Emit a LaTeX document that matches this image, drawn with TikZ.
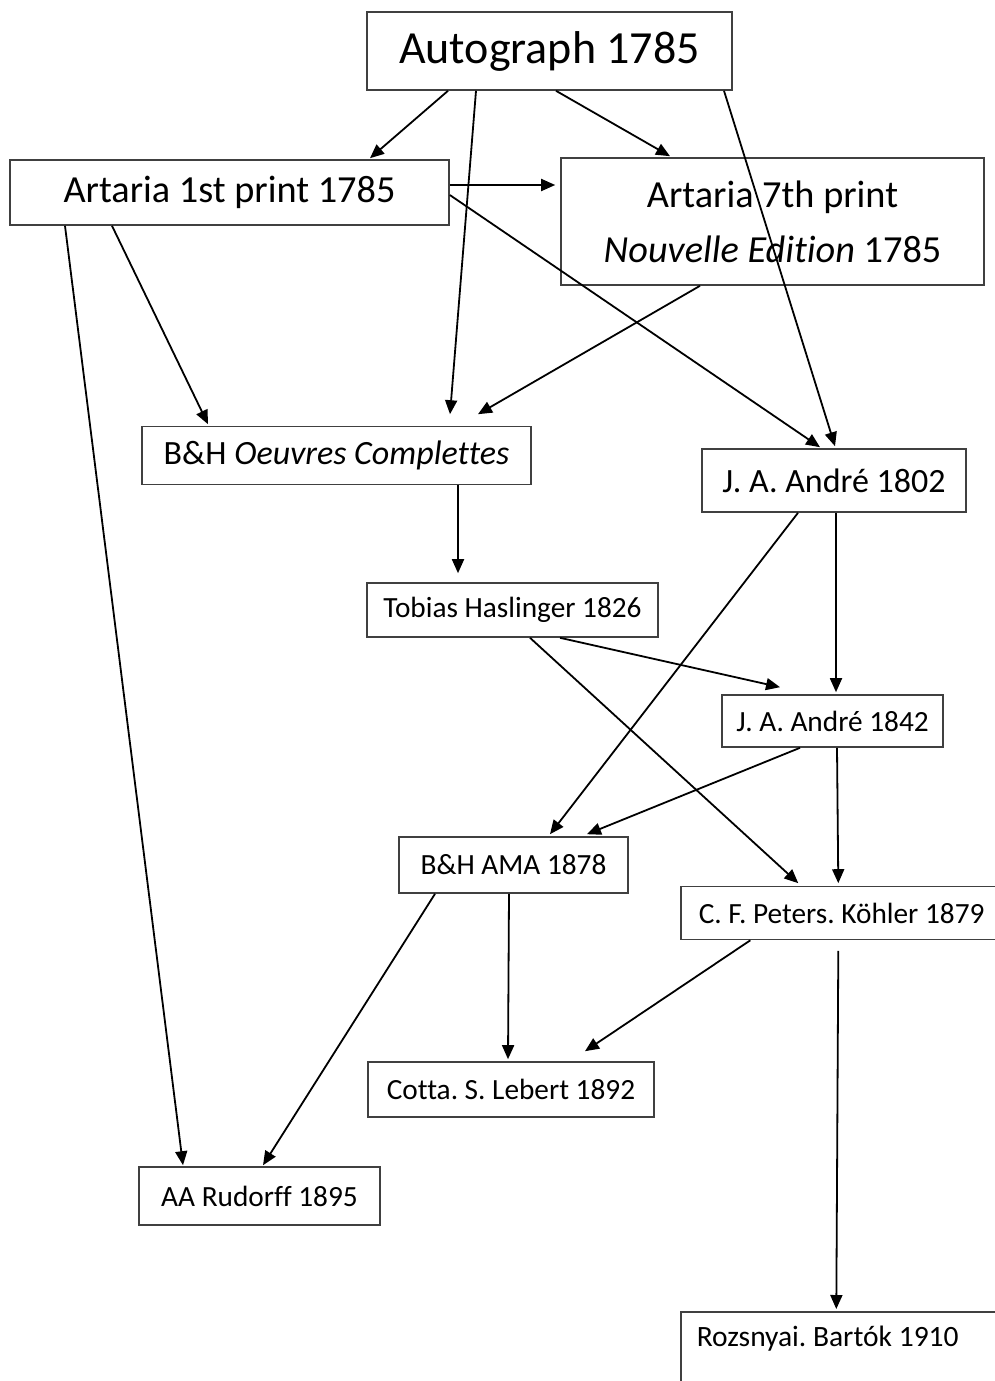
\documentclass[tikz,border=0pt]{standalone}
\usepackage{fontspec}
\setmainfont{Carlito}[Ligatures=NoCommon]
\usetikzlibrary{arrows.meta}
\definecolor{boxline}{HTML}{404040}
\tikzset{
  box/.style={draw=boxline, line width=1.6pt, inner sep=0pt, align=center, text=black},
  conn/.style={-{Triangle[length=14pt,width=12pt]}, line width=1.8pt, draw=black},
  fbig/.style={font=\fontsize{46}{55}\selectfont},
  fmed/.style={font=\fontsize{38.3}{55}\selectfont},
  fmid/.style={font=\fontsize{34}{40}\selectfont},
  fsmall/.style={font=\fontsize{29.3}{34}\selectfont},
}
\newcommand{\flushlabel}[1]{\makebox[315pt][l]{#1}}
\begin{document}
\frenchspacing
\begin{tikzpicture}[x=1pt, y=-1pt]
\useasboundingbox (0,0) rectangle (995,1381);
\fill[white] (0,0) rectangle (995,1381);
\clip (0,0) rectangle (995,1381);

% editions
\node[box, fbig, minimum width=365pt, minimum height=78pt] (auto) at (549.5,51) {Autograph 1785};
\node[box, fmed, minimum width=439pt, minimum height=65pt] (art1) at (229.5,192.5) {Artaria 1st print 1785};
\node[box, fmed, minimum width=423pt, minimum height=127pt] (art7) at (772.5,221.5) {Artaria 7th print\\\textit{Nouvelle Edition} 1785};
\node[box, fmid, minimum width=389pt, minimum height=58pt] (bhoc) at (336.5,455.5) {B\&H \textit{Oeuvres Complettes}};
\node[box, fmid, minimum width=264pt, minimum height=63pt] (a1802) at (834,480.5) {J. A. André 1802};
\node[box, fsmall, minimum width=291pt, minimum height=54pt] (hasl) at (512.5,610) {Tobias Haslinger 1826};
\node[box, fsmall, minimum width=221pt, minimum height=52pt] (a1842) at (832.5,721) {J. A. André 1842};
\node[box, fsmall, minimum width=229pt, minimum height=56pt] (bhama) at (513.5,865) {B\&H AMA 1878};
\node[box, fsmall, anchor=west, inner xsep=18pt, minimum height=53pt] (peters) at (680,913) {\flushlabel{C. F. Peters. Köhler 1879}};
\node[box, fsmall, minimum width=286pt, minimum height=55pt] (cotta) at (511,1089.5) {Cotta. S. Lebert 1892};
\node[box, fsmall, minimum width=241pt, minimum height=58pt] (rud) at (259.5,1196) {AA Rudorff 1895};
\node[box, font=\fontsize{29.5}{36}\selectfont, anchor=north west, inner xsep=16pt, inner ysep=13pt, text height=22pt, text depth=74pt] (roz) at (680,1311) {\flushlabel{Rozsnyai. Bartók 1910}};

% lines of descent
\draw[conn] ([shift={(-101.5,0)}]auto.south) -- ([shift={(140.5,-1)}]art1.north);
\draw[conn] ([shift={(-73.5,0)}]auto.south) -- ([shift={(113.5,-11.5)}]bhoc.north);
\draw[conn] ([shift={(6.5,0)}]auto.south) -- ([shift={(-102.5,-1)}]art7.north);
\draw[conn] ([shift={(174.5,0)}]auto.south) -- ([shift={(1,-2)}]a1802.north);
\draw[conn] ([shift={(0,-7.5)}]art1.east) -- ([shift={(-5,-36.5)}]art7.west);
\draw[conn] ([shift={(0,2.5)}]art1.east) -- ([shift={(-14,-1)}]a1802.north);
\draw[conn] ([shift={(-117.5,0)}]art1.south) -- ([shift={(-128.5,-1.5)}]bhoc.north);
\draw[conn] ([shift={(-164.5,0)}]art1.south) -- ([shift={(-76.5,-1)}]rud.north);
\draw[conn] ([shift={(-72.5,0)}]art7.south) -- ([shift={(141.5,-11.5)}]bhoc.north);
\draw[conn] ([shift={(121.5,0)}]bhoc.south) -- ([shift={(-54.5,-9)}]hasl.north);
\draw[conn] ([shift={(-36,0)}]a1802.south) -- ([shift={(36.5,-2)}]bhama.north);
\draw[conn] ([shift={(2,0)}]a1802.south) -- ([shift={(3.5,-2)}]a1842.north);
\draw[conn] ([shift={(47.5,0)}]hasl.south) -- ([shift={(-52.5,-7)}]a1842.north);
\draw[conn] ([shift={(17.5,0)}]hasl.south) -- ([shift={(-58,-2.5)}]peters.north);
\draw[conn] ([shift={(-32.5,0)}]a1842.south) -- ([shift={(73.5,-2)}]bhama.north);
\draw[conn] ([shift={(4.5,0)}]a1842.south) -- ([shift={(-18,-2.5)}]peters.north);
\draw[conn] ([shift={(-4.5,0)}]bhama.south) -- ([shift={(-3,-2)}]cotta.north);
\draw[conn] ([shift={(-78.5,0)}]bhama.south) -- ([shift={(3.5,-1)}]rud.north);
\draw[conn] ([shift={(-106,0)}]peters.south) -- ([shift={(74,-10)}]cotta.north);
\draw[conn] ([shift={(-18,10.5)}]peters.south) -- ([shift={(-18,-2)}]roz.north);
\end{tikzpicture}
\end{document}
